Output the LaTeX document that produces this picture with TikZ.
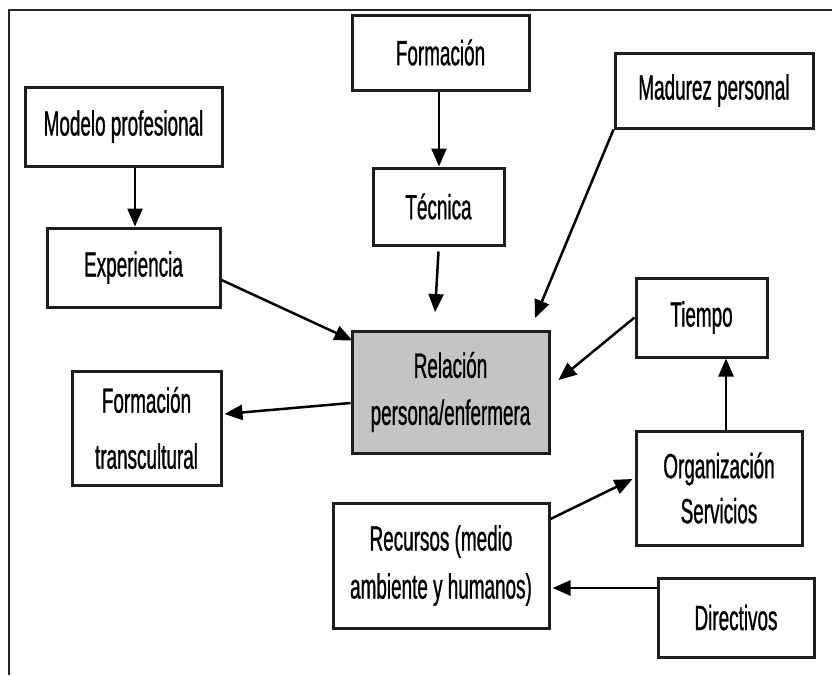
\documentclass[tikz,border=0pt]{standalone}
\usepackage{fontspec}
\newfontfamily\narrowfont[FakeStretch=0.54,FakeBold=0.8]{Liberation Sans}
\usetikzlibrary{arrows.meta}
\definecolor{boxline}{RGB}{30,30,30}
\definecolor{centerfill}{RGB}{196,196,196}
\tikzset{
  box/.style={draw=boxline, line width=3pt, fill=white, align=center, inner sep=0pt,
    font=\narrowfont\fontsize{35}{47}\selectfont},
  arr/.style={draw=black, line width=2.5pt, -{Triangle[length=18pt,width=15pt]}},
  frame/.style={draw=black!85, line width=2.5pt}
}
\begin{document}
\begin{tikzpicture}[x=1pt,y=-1pt]
\useasboundingbox (0,0) rectangle (832,675);
\fill[white] (0,0) rectangle (832,675);
% frame (top and left lines)
\coordinate (fA) at (9,675);
\coordinate (fB) at (9,10);
\coordinate (fC) at (832,10);
\draw[frame] (fA) -- (fB) -- (fC);

% boxes
\node[box, minimum width=177pt, minimum height=75pt] (formacion) at (440.5,52.5) {Formación};
\node[box, minimum width=131pt, minimum height=77pt] (tecnica) at (438.5,206.5) {Técnica};
\node[box, minimum width=198pt, minimum height=75pt] (madurez) at (714,90.5) {Madurez personal};
\node[box, minimum width=197pt, minimum height=79pt] (modelo) at (123.5,126.5) {Modelo profesional};
\node[box, minimum width=173pt, minimum height=79pt] (experiencia) at (133.5,267.5) {Experiencia};
\node[box, fill=centerfill, minimum width=197pt, minimum height=122pt] (relacion) at (450.5,392) {Relación\\persona/enfermera};
\node[box, minimum width=131pt, minimum height=79pt] (tiempo) at (701.5,317.5) {Tiempo};
\node[box, minimum width=149pt, minimum height=114pt, font=\narrowfont\fontsize{35}{56}\selectfont] (transcultural) at (146.5,428) {Formación\\transcultural};
\node[box, minimum width=166pt, minimum height=114pt, font=\narrowfont\fontsize{35}{45}\selectfont] (organizacion) at (719,488) {Organización\\Servicios};
\node[box, minimum width=216pt, minimum height=125pt, font=\narrowfont\fontsize{35}{48}\selectfont] (recursos) at (441,565.5) {Recursos (medio\\ambiente y humanos)};
\node[box, minimum width=156pt, minimum height=79pt] (directivos) at (736,617.5) {Directivos};

% free ends
\coordinate (tecEnd) at (435,312);
\coordinate (madEnd) at (535,318);

% connectors
\draw[arr] ([xshift=-1.5pt]formacion.south) -- ([xshift=0.5pt]tecnica.north);
\draw[arr] ([yshift=-5pt]tecnica.south) -- (tecEnd);
\draw[arr] ([xshift=11.5pt]modelo.south) -- ([xshift=1.5pt]experiencia.north);
\draw[arr] ([yshift=-12.5pt]experiencia.east) -- ([xshift=2pt,yshift=-11pt]relacion.north west);
\draw[arr] (madurez.south west) -- (madEnd);
\draw[arr] (tiempo.west) -- ([xshift=8pt,yshift=12pt]relacion.east);
\draw[arr] ([yshift=-11pt]relacion.west) -- ([xshift=2pt,yshift=14pt]transcultural.east);
\draw[arr] ([xshift=7pt]organizacion.north) -- ([xshift=24.5pt]tiempo.south);
\draw[arr] ([yshift=46.5pt]recursos.east) -- ([xshift=-2pt,yshift=9pt]organizacion.west);
\draw[arr] ([yshift=29.5pt]directivos.west) -- ([xshift=2pt,yshift=-22.5pt]recursos.east);
\end{tikzpicture}
\end{document}
